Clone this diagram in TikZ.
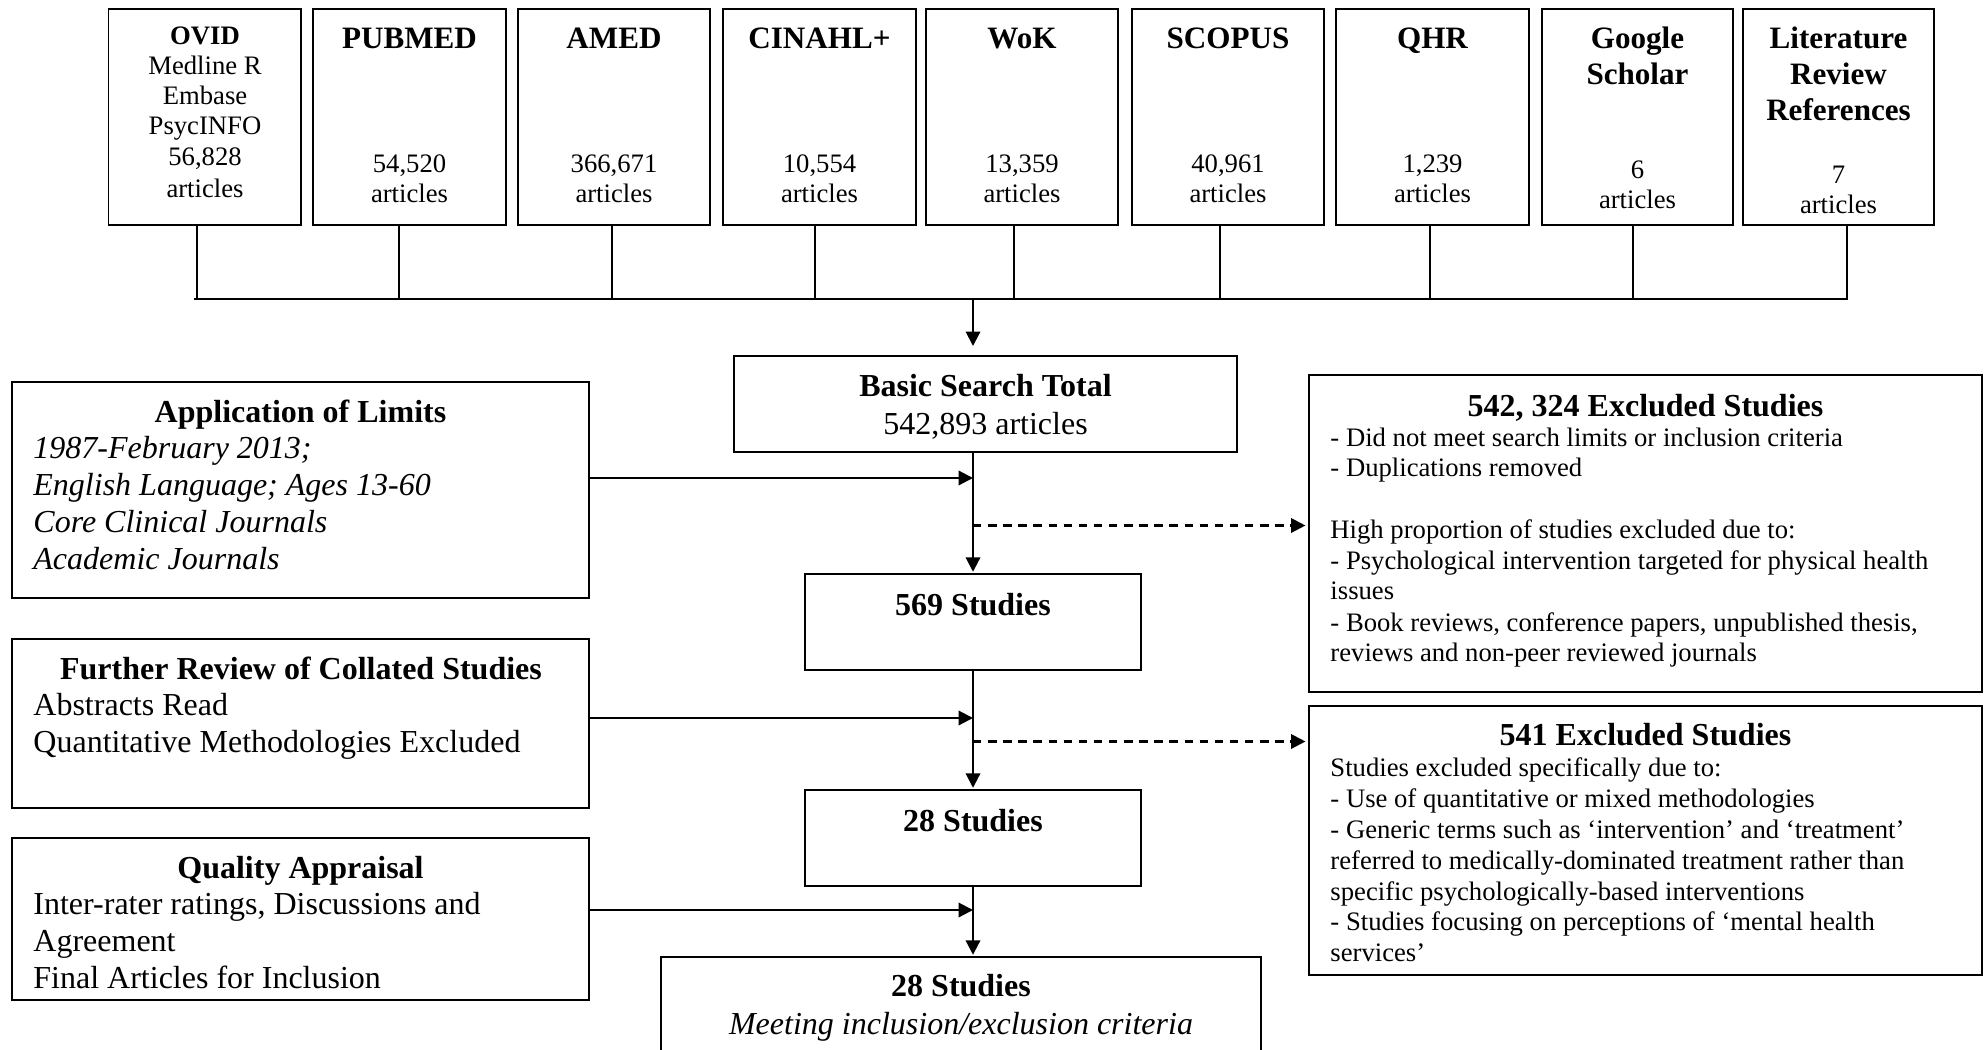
\documentclass[tikz,border=0pt]{standalone}
\usepackage{fontspec}
\setmainfont{Liberation Serif}
\usetikzlibrary{arrows.meta}
\newcommand\mkbox[5]{\node[boxs, anchor=north west, minimum width={(#4-#2)*0.45pt}, minimum height={(#5-#3)*0.45pt}] (#1) at (#2,#3) {};}
\begin{document}
\begin{tikzpicture}[x=0.45pt,y=-0.45pt,
  boxs/.style={draw, line width=0.8pt, inner sep=0pt, outer sep=0pt, rectangle},
  tA/.style={inner sep=0pt, font=\fontsize{12}{14}\selectfont},
  tAb/.style={inner sep=0pt, font=\fontsize{12}{14}\selectfont\bfseries},
  tTb/.style={inner sep=0pt, font=\fontsize{14}{16}\selectfont\bfseries},
  tB/.style={inner sep=0pt, font=\fontsize{14.4}{16.6}\selectfont},
  tBb/.style={inner sep=0pt, font=\fontsize{14.4}{16.6}\selectfont\bfseries},
  tBi/.style={inner sep=0pt, font=\fontsize{14.4}{16.6}\selectfont\itshape},
  arr/.style={-{Triangle[length=6.5pt,width=6.5pt]}, line width=0.95pt},
  harr/.style={arr},
  darr/.style={arr, dash pattern=on 3.8pt off 3pt, shorten >=1.6pt},
  stub/.style={line width=0.6pt},
  busl/.style={line width=1pt}]
\fill[white] (0,0) rectangle (1988,1050);
\clip (0,0) rectangle (1988,1050);

% top source boxes
\mkbox{ovid}{108.5}{9}{301}{225}
\mkbox{pubmed}{313}{9}{506}{225}
\mkbox{amed}{518}{9}{710}{225}
\mkbox{cinahl}{723}{9}{916}{225}
\mkbox{wok}{926}{9}{1118}{225}
\mkbox{scopus}{1132}{9}{1324}{225}
\mkbox{qhr}{1336}{9}{1529}{225}
\mkbox{google}{1542}{9}{1733}{225}
\mkbox{litrev}{1743}{9}{1934}{225}

\node[tAb, anchor=base] (ovid-t) at (205,45) {OVID};
\node[tA, anchor=base] (ovid-1) at (205,75) {Medline R};
\node[tA, anchor=base] (ovid-2) at (205,105) {Embase};
\node[tA, anchor=base] (ovid-3) at (205,135) {PsycINFO};
\node[tA, anchor=base] (ovid-4) at (205,166) {56,828};
\node[tA, anchor=base] (ovid-5) at (205,198) {articles};

\node[tTb, anchor=base] (pubmed-t) at (409.5,49) {PUBMED};
\node[tA, anchor=base] (pubmed-1) at (409.5,173) {54,520};
\node[tA, anchor=base] (pubmed-2) at (409.5,203) {articles};

\node[tTb, anchor=base] (amed-t) at (614,49) {AMED};
\node[tA, anchor=base] (amed-1) at (614,173) {366,671};
\node[tA, anchor=base] (amed-2) at (614,203) {articles};

\node[tTb, anchor=base] (cinahl-t) at (819.5,49) {CINAHL+};
\node[tA, anchor=base] (cinahl-1) at (819.5,173) {10,554};
\node[tA, anchor=base] (cinahl-2) at (819.5,203) {articles};

\node[tTb, anchor=base] (wok-t) at (1022,49) {WoK};
\node[tA, anchor=base] (wok-1) at (1022,173) {13,359};
\node[tA, anchor=base] (wok-2) at (1022,203) {articles};

\node[tTb, anchor=base] (scopus-t) at (1228,49) {SCOPUS};
\node[tA, anchor=base] (scopus-1) at (1228,173) {40,961};
\node[tA, anchor=base] (scopus-2) at (1228,203) {articles};

\node[tTb, anchor=base] (qhr-t) at (1432.5,49) {QHR};
\node[tA, anchor=base] (qhr-1) at (1432.5,173) {1,239};
\node[tA, anchor=base] (qhr-2) at (1432.5,203) {articles};

\node[tTb, anchor=base] (google-t) at (1637.5,49) {Google};
\node[tTb, anchor=base] (google-t2) at (1637.5,85) {Scholar};
\node[tA, anchor=base] (google-1) at (1637.5,179) {6};
\node[tA, anchor=base] (google-2) at (1637.5,209) {articles};

\node[tTb, anchor=base] (litrev-t) at (1838.5,49) {Literature};
\node[tTb, anchor=base] (litrev-t2) at (1838.5,85) {Review};
\node[tTb, anchor=base] (litrev-t3) at (1838.5,121) {References};
\node[tA, anchor=base] (litrev-1) at (1838.5,184) {7};
\node[tA, anchor=base] (litrev-2) at (1838.5,214) {articles};

% bus
\coordinate (b1) at (197,299);
\coordinate (b2) at (399,299);
\coordinate (b3) at (612,299);
\coordinate (b4) at (815,299);
\coordinate (b5) at (1014,299);
\coordinate (b6) at (1220,299);
\coordinate (b7) at (1430,299);
\coordinate (b8) at (1633,299);
\coordinate (b9) at (1847,299);
\coordinate (busM) at (973,299);
\draw[stub] (ovid.south -| b1) -- (b1);
\draw[stub] (pubmed.south -| b2) -- (b2);
\draw[stub] (amed.south -| b3) -- (b3);
\draw[stub] (cinahl.south -| b4) -- (b4);
\draw[stub] (wok.south -| b5) -- (b5);
\draw[stub] (scopus.south -| b6) -- (b6);
\draw[stub] (qhr.south -| b7) -- (b7);
\draw[stub] (google.south -| b8) -- (b8);
\draw[stub] (litrev.south -| b9) -- (b9);
\draw[busl] ([xshift=-1.5pt]b1) -- ([xshift=0.5pt]b9);

% main column
\mkbox{bst}{734}{356}{1237}{452}
\mkbox{s569}{805}{574}{1141}{670}
\mkbox{s28}{805}{790}{1141}{886}
\mkbox{final}{661}{957}{1261}{1080}

\node[tBb, anchor=base] (bst-t) at (985.5,396) {Basic Search Total};
\node[tB, anchor=base] (bst-1) at (985.5,434) {542,893 articles};
\node[tBb, anchor=base] (s569-t) at (973,615) {569 Studies};
\node[tBb, anchor=base] (s28-t) at (973,831) {28 Studies};
\node[tBb, anchor=base] (final-t) at (961,996) {28 Studies};
\node[tBi, anchor=base] (final-1) at (961,1034) {Meeting inclusion/exclusion criteria};

% left boxes
\mkbox{aol}{12}{382}{589}{598}
\mkbox{frev}{12}{639}{589}{808}
\mkbox{qa}{12}{838}{589}{1000}

\node[tBb, anchor=base] (aol-t) at (300.5,422) {Application of Limits};
\node[tBi, anchor=base west] (aol-1) at (33,458) {1987-February 2013;};
\node[tBi, anchor=base west] (aol-2) at (33,495) {English Language; Ages 13-60};
\node[tBi, anchor=base west] (aol-3) at (33,532) {Core Clinical Journals};
\node[tBi, anchor=base west] (aol-4) at (33,569) {Academic Journals};

\node[tBb, anchor=base] (frev-t) at (301,679) {Further Review of Collated Studies};
\node[tB, anchor=base west] (frev-1) at (33,715) {Abstracts Read};
\node[tB, anchor=base west] (frev-2) at (33,752) {Quantitative Methodologies Excluded};

\node[tBb, anchor=base] (qa-t) at (300.5,878) {Quality Appraisal};
\node[tB, anchor=base west] (qa-1) at (33,914) {Inter-rater ratings, Discussions and};
\node[tB, anchor=base west] (qa-2) at (33,951) {Agreement};
\node[tB, anchor=base west] (qa-3) at (33,988) {Final Articles for Inclusion};

% excluded boxes
\mkbox{ex1}{1309}{375}{1982}{692}
\mkbox{ex2}{1309}{706}{1982}{975}

\node[tBb, anchor=base] (ex1-t) at (1645.5,416) {542, 324 Excluded Studies};
\node[tA, anchor=base west] (ex1-1) at (1330,446) {- Did not meet search limits or inclusion criteria};
\node[tA, anchor=base west] (ex1-2) at (1330,476) {- Duplications removed};
\node[tA, anchor=base west] (ex1-3) at (1330,538) {High proportion of studies excluded due to:};
\node[tA, anchor=base west] (ex1-4) at (1330,569) {- Psychological intervention targeted for physical health};
\node[tA, anchor=base west] (ex1-5) at (1330,599) {issues};
\node[tA, anchor=base west] (ex1-6) at (1330,631) {- Book reviews, conference papers, unpublished thesis,};
\node[tA, anchor=base west] (ex1-7) at (1330,661) {reviews and non-peer reviewed journals};

\node[tBb, anchor=base] (ex2-t) at (1645.5,745) {541 Excluded Studies};
\node[tA, anchor=base west] (ex2-1) at (1330,776) {Studies excluded specifically due to:};
\node[tA, anchor=base west] (ex2-2) at (1330,807) {- Use of quantitative or mixed methodologies};
\node[tA, anchor=base west] (ex2-3) at (1330,838) {- Generic terms such as ‘intervention’ and ‘treatment’};
\node[tA, anchor=base west] (ex2-4) at (1330,869) {referred to medically-dominated treatment rather than};
\node[tA, anchor=base west] (ex2-5) at (1330,900) {specific psychologically-based interventions};
\node[tA, anchor=base west] (ex2-6) at (1330,930) {- Studies focusing on perceptions of ‘mental health};
\node[tA, anchor=base west] (ex2-7) at (1330,961) {services’};

% junctions
\coordinate (j1) at (973,478);
\coordinate (d1) at (973,525.5);
\coordinate (j2) at (973,718);
\coordinate (d2) at (973,741.5);
\coordinate (j3) at (973,910);

% connectors
\draw[arr, shorten >=4.5pt] (busM) -- (busM |- bst.north);
\draw[arr, shorten >=1pt] (bst.south -| busM) -- (s569.north -| busM);
\draw[harr] (aol.east |- j1) -- (j1);
\draw[darr] (d1) -- (ex1.west |- d1);
\draw[arr, shorten >=1pt] (s569.south -| busM) -- (s28.north -| busM);
\draw[harr] (frev.east |- j2) -- (j2);
\draw[darr] (d2) -- (ex2.west |- d2);
\draw[arr, shorten >=1pt] (s28.south -| busM) -- (final.north -| busM);
\draw[harr] (qa.east |- j3) -- (j3);
\end{tikzpicture}
\end{document}
